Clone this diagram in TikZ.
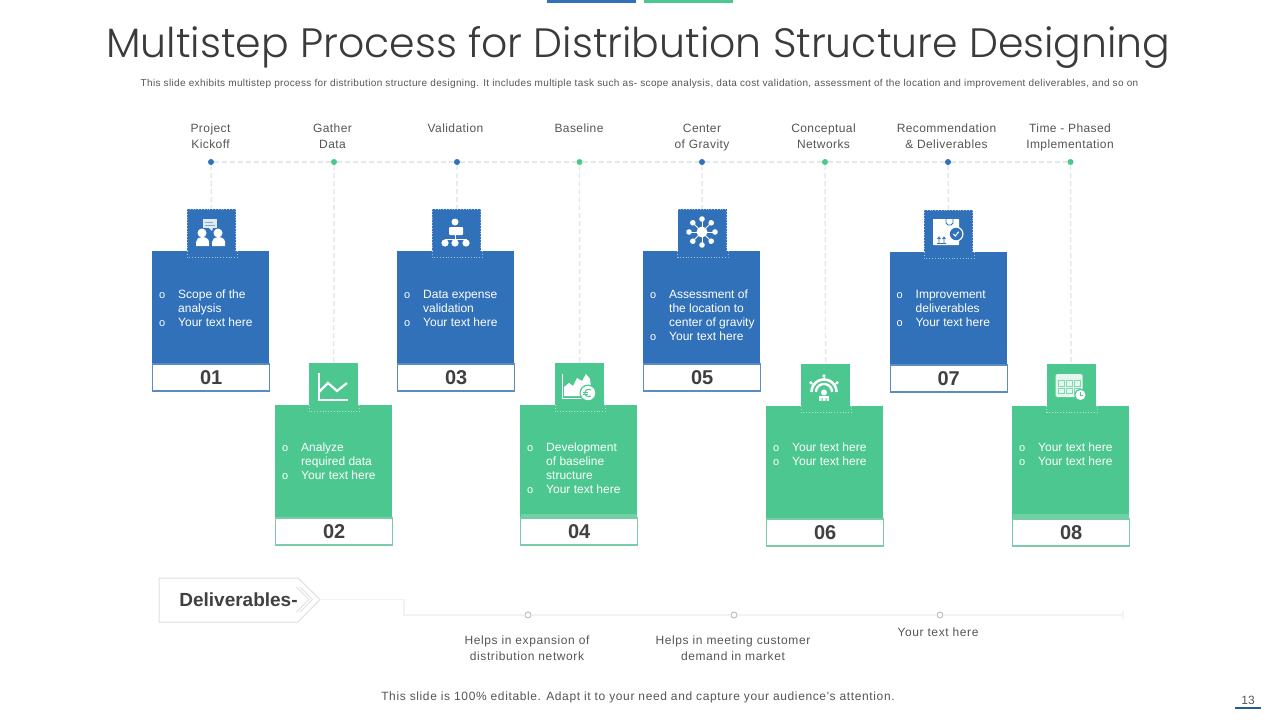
\documentclass[tikz,border=0pt]{standalone}
\usepackage{fontspec}
\setmainfont{Liberation Sans}
\newfontfamily\titlefont{Poppins Light}
\newfontfamily\widesans[LetterSpace=5]{Liberation Sans}
\newfontfamily\midsans[LetterSpace=3.5]{Liberation Sans}
\newfontfamily\subsans[LetterSpace=3.55]{Liberation Sans}
\newfontfamily\footsans[LetterSpace=5.2]{Liberation Sans}
\usetikzlibrary{calc}
\definecolor{pblue}{HTML}{3171B9}
\definecolor{pgreen}{HTML}{4BC78F}
\definecolor{bblue}{HTML}{5B8BBF}
\definecolor{bgreen}{HTML}{7CCBA8}
\definecolor{ink}{HTML}{404040}
\definecolor{soft}{HTML}{555555}
\definecolor{dashc}{HTML}{E3E8E8}
\definecolor{railc}{HTML}{F2F2F2}
\tikzset{
  panelbox/.style={rectangle,inner sep=0pt,minimum width=117pt,minimum height=112pt,anchor=north west},
  numbox/.style={rectangle,fill=white,line width=1.2pt,inner sep=0pt,minimum width=117pt,minimum height=27pt,anchor=north,
     font=\fontsize{20}{22}\selectfont\bfseries,text=ink},
  iconbox/.style={rectangle,inner sep=0pt,minimum width=49pt,minimum height=47pt,anchor=north west},
  hdot/.style={circle,inner sep=0pt,minimum size=6pt},
  dashline/.style={draw=dashc,line width=1.4pt,dash pattern=on 5pt off 3pt},
  head/.style={font=\midsans\fontsize{12}{16}\selectfont,text=soft,align=center,inner sep=0pt},
  body/.style={font=\fontsize{12}{14}\selectfont,text=white,inner sep=0pt,anchor=north west},
  rail/.style={draw=railc,line width=1.5pt},
  railmark/.style={circle,draw=black!25,fill=white,line width=1pt,inner sep=0pt,minimum size=6pt},
  note/.style={font=\widesans\fontsize{12}{16}\selectfont,text=soft,align=center,inner sep=0pt},
  iconline/.style={draw=white,line width=2pt},
  dotedge/.style={draw=white,opacity=.55,line width=.8pt,dotted},
}
% id, left, top, colour, border, icon left, dot name, number, rows
\newcommand{\panel}[9]{%
  \node[panelbox,fill=#4] (p#1) at (#2,#3) {};
  \node[numbox,draw=#5] (n#1) at ($(p#1.south)+(0.5,0)$) {#8\hspace{2pt}};
  \node[iconbox,fill=#4] (i#1) at (#6,#3-42) {};
  \draw[dotedge] (#6,#3) -- (#6,#3+6) -- (#6+50.5,#3+6) -- (#6+50.5,#3);
  \draw[dashline] (#7) -- (i#1);
  \node[body] (t#1) at (#2+7,{#3<300?288:441}) {\begin{tabular}{@{}p{19pt}@{}l@{}}#9\end{tabular}};
}
\newcommand{\blt}{{\fontsize{11}{14}\selectfont o}}
\begin{document}
\begin{tikzpicture}[x=1pt,y=-1pt]
\useasboundingbox (0,0) rectangle (1280,720);
\fill[white] (0,0) rectangle (1280,720);
% top bars
\fill[pblue] (547,0) rectangle (636,3);
\fill[pgreen] (644,0) rectangle (733,3);
% title
\node[font=\titlefont\fontsize{41}{50}\selectfont,text=ink!90!black,inner sep=0pt] (title) at (638.5,47) {Multistep Process for Distribution Structure Designing};
\node[font=\subsans\fontsize{10}{11}\selectfont,text=soft,inner sep=0pt] (sub) at (639.5,84) {This slide exhibits multistep process for distribution structure designing. It includes multiple  task such as- scope analysis, data cost validation, assessment of the location and improvement deliverables, and so on};
% header labels
\node[head] (h1) at (210.5,136) {Project\\Kickoff};
\node[head] (h2) at (332.5,136) {Gather\\Data};
\node[head] (h3) at (455.5,128) {Validation};
\node[head] (h4) at (579,128) {Baseline};
\node[head] (h5) at (702,138) {Center\\of Gravity};
\node[head] (h6) at (823.5,136) {Conceptual\\Networks};
\node[head] (h7) at (946.5,136) {Recommendation\\\& Deliverables};
\node[head] (h8) at (1070,137) {Time - Phased\\Implementation};
% dots
\node[hdot,fill=pblue] (d1) at (211,162) {};
\node[hdot,fill=pgreen] (d2) at (334,162) {};
\node[hdot,fill=pblue] (d3) at (457,162) {};
\node[hdot,fill=pgreen] (d4) at (579.5,162) {};
\node[hdot,fill=pblue] (d5) at (702,162) {};
\node[hdot,fill=pgreen] (d6) at (825,162) {};
\node[hdot,fill=pblue] (d7) at (948,162) {};
\node[hdot,fill=pgreen] (d8) at (1070.5,162) {};
\draw[dashline] (d1)--(d2);\draw[dashline] (d2)--(d3);\draw[dashline] (d3)--(d4);\draw[dashline] (d4)--(d5);
\draw[dashline] (d5)--(d6);\draw[dashline] (d6)--(d7);\draw[dashline] (d7)--(d8);
% panels
\panel{1}{152}{251}{pblue}{bblue}{187}{d1}{01}{\blt & Scope of the\\ & analysis\\ \blt & Your text here}
\panel{2}{275}{405}{pgreen}{bgreen}{309}{d2}{02}{\blt & Analyze\\ & required data\\ \blt & Your text here}
\panel{3}{397}{251}{pblue}{bblue}{432}{d3}{03}{\blt & Data expense\\ & validation\\ \blt & Your text here}
\panel{4}{520}{405}{pgreen}{bgreen}{555}{d4}{04}{\blt & Development\\ & of baseline\\ & structure\\ \blt & Your text here}
\panel{5}{643}{251}{pblue}{bblue}{677.5}{d5}{05}{\blt & Assessment of\\ & the location to\\ & center of gravity\\ \blt & Your text here}
\panel{6}{766}{406}{pgreen}{bgreen}{801}{d6}{06}{\blt & Your text here\\ \blt & Your text here}
\panel{7}{889.5}{252}{pblue}{bblue}{924}{d7}{07}{\blt & Improvement\\ & deliverables\\ \blt & Your text here}
\panel{8}{1012}{406}{pgreen}{bgreen}{1046.5}{d8}{08}{\blt & Your text here\\ \blt & Your text here}
% dotted edges visible on the blue panels' icon tiles
\foreach \ix/\iy in {187/251,432/251,677.5/251,924/252}{
  \draw[dotedge] (\ix,\iy) -- (\ix,\iy-42) -- (\ix+48.5,\iy-42) -- (\ix+48.5,\iy);
}
% lighter strips
\fill[pgreen!80!white] (520.5,514) rectangle (637,516.5);
\fill[pgreen!80!white] (1012.5,514) rectangle (1128.5,517.5);
% icon 1: people
\begin{scope}[shift={(187,209)}]
\fill[white,opacity=.85] (16,10) rectangle (30,19);
\fill[white,opacity=.85] (22,19) -- (26,19) -- (25,22) -- cycle;
\fill[pblue!60!white] (18,13) rectangle (26,14);\fill[pblue!60!white] (18,16) rectangle (28,17);
\fill[white] (15,24) circle (4.5) (31,24) circle (4.5);
\fill[white] (9,37) -- (9,33) .. controls (9,30) and (12,28) .. (15,28) .. controls (19,28) and (22,30) .. (22,33) -- (22,37) -- cycle;
\fill[white] (25,37) -- (25,33) .. controls (25,30) and (28,28) .. (31,28) .. controls (35,28) and (38,30) .. (38,33) -- (38,37) -- cycle;
\end{scope}
% icon 2: line chart
\begin{scope}[shift={(309,363)}]
\draw[iconline,line width=2.2pt] (10,10) -- (10,37) -- (39,37);
\draw[iconline,line width=2.2pt] (10,29) -- (19,20) -- (28,28) -- (38,20);
\end{scope}
% icon 3: hierarchy
\begin{scope}[shift={(432,209)}]
\fill[white] (23,13) circle (3.5);
\fill[white,rounded corners=1pt] (17,18) rectangle (31,26);
\draw[white,line width=.8pt] (23,26) -- (23,30) (13,33) -- (13,30) -- (34,30) -- (34,33);
\fill[white] (13,34) circle (3.6) (23,34) circle (3.6) (34,34) circle (3.6);
\end{scope}
% icon 4: chart with coin
\begin{scope}[shift={(555,363)}]
\draw[white,line width=1pt] (7,11) -- (7,35) -- (27,35);
\fill[white] (9,33) -- (9,24) -- (14,20) -- (18,23) -- (22,15) -- (27,18) -- (31,11) -- (35,16) -- (36,24) -- (27,33) -- cycle;
\fill[pgreen] (33,30) circle (8.5);
\fill[white] (33,30) circle (7.2);
\draw[pgreen,line width=1pt] plot[smooth,domain=50:310,samples=14] ({33.5+3.6*cos(\x)},{30-3.6*sin(\x)});
\draw[pgreen,line width=.7pt] (28,29) -- (33,29) (28,31) -- (33,31);
\end{scope}
% icon 5: network
\begin{scope}[shift={(677.5,209)}]
\fill[white] (24.5,23) circle (5.5);
\foreach \a in {0,45,...,315}{
  \draw[white,line width=.8pt] (24.5,23) -- ({24.5+11*cos(\a)},{23+11*sin(\a)});
  \fill[white] ({24.5+13*cos(\a)},{23+13*sin(\a)}) circle (2.8);
}
\end{scope}
% icon 6: dome
\begin{scope}[shift={(801,363)}]
\foreach \r/\w in {12.5/2.6,8/2.4}{
  \draw[white,line width=\w pt] plot[smooth,domain=180:360,samples=20] ({23+\r*cos(\x)},{29+\r*sin(\x)});
}
\fill[white] (23,29.5) circle (3);
\foreach \a in {270,215,325}{
  \draw[white,line width=.9pt] ({23+12*cos(\a)},{29+12*sin(\a)}) -- ({23+16*cos(\a)},{29+16*sin(\a)});
  \fill[white] ({23+16*cos(\a)},{29+16*sin(\a)}) circle (1.8);
}
\fill[white] (18,33) rectangle (28,38);
\fill[pgreen] (20.5,35) rectangle (21.5,38) (24.5,35) rectangle (25.5,38);
\end{scope}
% icon 7: parcel
\begin{scope}[shift={(924,209)}]
\fill[white,rounded corners=.6pt] (9,10) rectangle (35,36);
\draw[pblue,line width=.8pt] (22,10) -- (22,14) -- (24,16) -- (27,16) -- (29,14) -- (29,10);
\draw[pblue,line width=.8pt] (15,34) -- (15,28) (13.5,30) -- (15,28) -- (16.5,30) (20,34) -- (20,28) (18.5,30) -- (20,28) -- (21.5,30) (13,34.5) -- (22,34.5);
\fill[white] (32,25) circle (7.5);
\fill[pblue] (32,25) circle (6.2);
\draw[white,line width=1.1pt] (29.5,25) -- (31.3,27) -- (34.7,22.8);
\end{scope}
% icon 8: calendar
\begin{scope}[shift={(1046.5,363)}]
\fill[white,opacity=.85,rounded corners=1.5pt] (9,11) rectangle (36,34);
\foreach \cx in {12,20,28}{\foreach \cy in {17.5,25}{
  \draw[pgreen!70!white,line width=.8pt] (\cx,\cy) rectangle ++(5.5,5.5);
}}
\fill[pgreen] (34,32) circle (6.2);
\fill[white] (34,32) circle (5);
\draw[pgreen,line width=.7pt] (34,29) -- (34,32) -- (36,32);
\end{scope}
% deliverables
\draw[draw=black!12,line width=1pt,fill=white] (159,578) -- (298,578) -- (320,599.5) -- (298,622) -- (159,622) -- cycle;
\coordinate (tip) at (320,599.5);
\draw[black!12,line width=.8pt] (296.5,587) -- (309,599.5) -- (296.5,612);
\draw[black!12,line width=.8pt] (300,587) -- (312.5,599.5) -- (300,612);
\node[font=\fontsize{19}{20}\selectfont\bfseries,text=ink,inner sep=0pt] (deliv) at (238.5,599.5) {Deliverables-};
\coordinate (e1) at (404,599.5);
\coordinate (e2) at (404,615);
\node[railmark] (m1) at (528,615) {};
\node[railmark] (m2) at (734,615) {};
\node[railmark] (m3) at (940,615) {};
\coordinate (railend) at (1123,615);
\draw[rail] (tip) -- (e1) -- (e2) -- (m1);
\draw[rail] (m1) -- (m2);\draw[rail] (m2) -- (m3);\draw[rail] (m3) -- (railend);
\draw[rail] ($(railend)+(0,-4)$) -- ($(railend)+(0,4)$);
\node[note] (c1) at (527,648.5) {Helps in expansion of\\distribution network};
\node[note] (c2) at (733,648.5) {Helps in meeting customer\\demand in market};
\node[note] (c3) at (938,632) {Your text here};
% footer
\node[font=\footsans\fontsize{12}{14}\selectfont,text=soft,inner sep=0pt] (foot) at (638,697.5) {This slide is 100\% editable. Adapt it to your need and capture your audience's attention.};
\node[font=\fontsize{12}{14}\selectfont,text=soft,inner sep=0pt] (page) at (1248,700) {13};
\draw[pblue!80!black,line width=2pt] (1235,708) -- (1261,708);
\end{tikzpicture}
\end{document}
